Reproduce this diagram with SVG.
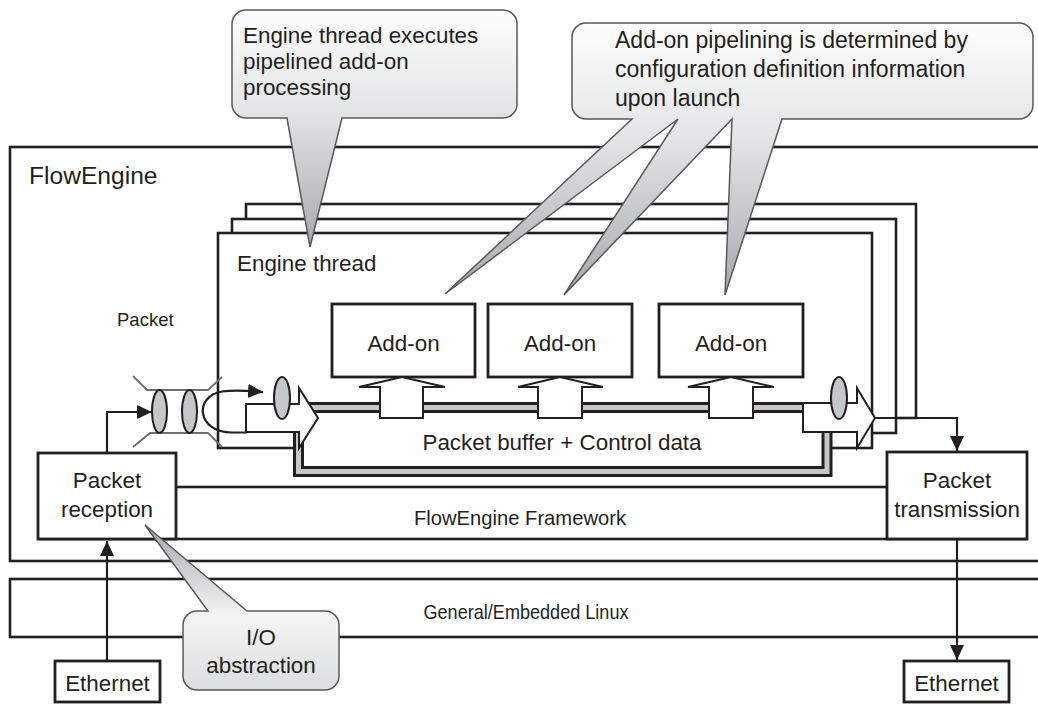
<svg xmlns="http://www.w3.org/2000/svg" width="1038" height="704" viewBox="0 0 1038 704">
<style>
.ln{fill:none;stroke:#231f20;stroke-width:2.6}
.box{fill:#fff;stroke:#231f20;stroke-width:2.8}
.th{fill:#fff;stroke:#231f20;stroke-width:2.6}
.fat{fill:#fff;stroke:#231f20;stroke-width:2}
.ov{fill:#c6c7c9;stroke:#231f20;stroke-width:2}
.q{fill:none;stroke:#6d6e70;stroke-width:1.8}
.con{fill:none;stroke:#231f20;stroke-width:2.2}
.co{stroke:#58595b;stroke-width:1.5}
text{font-family:"Liberation Sans",Arial,sans-serif;font-size:22.4px;fill:#231f20}
.c{text-anchor:middle}
</style>
<defs>
<marker id="ah" markerUnits="userSpaceOnUse" markerWidth="15" markerHeight="14" refX="15" refY="7" orient="auto">
<path d="M0,0 L15,7 L0,14 Z" fill="#231f20"/>
</marker>
<linearGradient id="gd" x1="0" y1="0" x2="0" y2="1">
<stop offset="0" stop-color="#fdfdfd"/>
<stop offset="0.42" stop-color="#e4e5e6"/>
<stop offset="1" stop-color="#a6a8ab"/>
</linearGradient>
<linearGradient id="gu" x1="0" y1="0" x2="0" y2="1">
<stop offset="0" stop-color="#a6a8ab"/>
<stop offset="0.55" stop-color="#f5f5f5"/>
<stop offset="1" stop-color="#dcdddf"/>
</linearGradient>
</defs>

<g id="flowengine">
<rect class="ln" x="10" y="147" width="1040" height="414"/>
<text x="29" y="184" style="font-size:24.6px">FlowEngine</text>
</g>

<g id="linux">
<rect class="ln" x="10" y="579" width="1040" height="58"/>
<text class="c" x="526" y="619" style="font-size:21px" textLength="205" lengthAdjust="spacingAndGlyphs">General/Embedded Linux</text>
</g>

<g id="framework">
<rect class="ln" x="40" y="487" width="985" height="52"/>
<text class="c" x="520" y="525" style="font-size:21px" textLength="212" lengthAdjust="spacingAndGlyphs">FlowEngine Framework</text>
</g>

<g id="engine-thread">
<rect class="th" x="246" y="204" width="670" height="214"/>
<rect class="th" x="232" y="219" width="664" height="214"/>
<rect class="th" x="218" y="233" width="654" height="215"/>
<text x="237" y="271">Engine thread</text>
</g>

<g id="packet-buffer">
<rect x="298.5" y="407.5" width="528.5" height="64" fill="#fff"/>
<path d="M306,407.5 H827 V471.5 H298.5 V425" fill="none" stroke="#231f20" stroke-width="11"/>
<path d="M306,407.5 H827 V471.5 H298.5 V425" fill="none" stroke="#c6c7c9" stroke-width="5"/>
<text class="c" x="562" y="450">Packet buffer + Control data</text>
</g>

<g id="input-arrow">
<polygon class="fat" points="246,404 299,404 299,388 318,418 299,448 299,432 246,432"/>
<ellipse class="ov" cx="282" cy="398" rx="8" ry="21"/>
</g>

<g id="output-arrow">
<polygon class="fat" points="803,403 857,403 857,388 875,418 857,448 857,432 803,432"/>
<ellipse class="ov" cx="839" cy="398" rx="8" ry="21"/>
</g>

<g id="addon1">
<rect class="box" x="332" y="304" width="143" height="73"/>
<text class="c" x="403.5" y="351">Add-on</text>
<polygon class="fat" points="380,418 380,387 359,387 402,377 445,387 423,387 423,418"/>
</g>
<g id="addon2">
<rect class="box" x="488" y="304" width="144" height="73"/>
<text class="c" x="560" y="351">Add-on</text>
<polygon class="fat" points="538,418 538,387 518,387 560,377 603,387 582,387 582,418"/>
</g>
<g id="addon3">
<rect class="box" x="659" y="304" width="144" height="73"/>
<text class="c" x="731" y="351">Add-on</text>
<polygon class="fat" points="709,418 709,387 688,387 731,377 774,387 753,387 753,418"/>
</g>

<g id="packet-queue">
<path class="q" d="M133,376 L147,390 H208 L222,377"/>
<path class="q" d="M133,447 L150,433 H208 L222,447"/>
<ellipse class="ov" cx="159.5" cy="411.5" rx="7.5" ry="21.5"/>
<ellipse class="ov" cx="189.5" cy="411.5" rx="7.5" ry="21.5"/>
<text x="117" y="326" style="font-size:18.5px">Packet</text>
</g>

<g id="reception">
<rect class="box" x="38" y="453" width="138" height="86"/>
<text class="c" x="107" y="488">Packet</text>
<text class="c" x="107" y="517">reception</text>
</g>

<g id="transmission">
<rect class="box" x="887" y="452" width="140" height="87"/>
<text class="c" x="957" y="488">Packet</text>
<text class="c" x="957" y="517">transmission</text>
</g>

<g id="ethernet-in">
<rect class="box" x="55" y="661" width="105" height="41"/>
<text class="c" x="107.5" y="691">Ethernet</text>
</g>
<g id="ethernet-out">
<rect class="box" x="904" y="661" width="105" height="41"/>
<text class="c" x="956.5" y="691">Ethernet</text>
</g>

<g id="connectors">
<path class="con" d="M107,453 V412 H152" marker-end="url(#ah)"/>
<path class="con" d="M107,661 V541" marker-end="url(#ah)"/>
<path class="con" d="M875,418 H957 V451" marker-end="url(#ah)"/>
<path class="con" d="M957,539 V660" marker-end="url(#ah)"/>
<path class="con" d="M247,432.5 H232 C196,432 194,396 222,391.5 C236,389.5 250,391 263,392" marker-end="url(#ah)"/>
</g>

<g id="callout-engine">
<path class="co" fill="url(#gd)" d="M246,10 H503 A14,14 0 0 1 517,24 V104 A14,14 0 0 1 503,118 H342 L310,247 L287,118 H246 A14,14 0 0 1 232,104 V24 A14,14 0 0 1 246,10 Z"/>
<text x="243" y="43">Engine thread executes</text>
<text x="243" y="69">pipelined add-on</text>
<text x="243" y="95">processing</text>
</g>

<g id="callout-pipelining">
<path class="co" fill="url(#gd)" d="M586,23 H1019 A14,14 0 0 1 1033,37 V105 A14,14 0 0 1 1019,119 H782 L725,295 L732,119 L564,295 L678,119 L445,294 L632,119 H586 A14,14 0 0 1 572,105 V37 A14,14 0 0 1 586,23 Z"/>
<text x="615" y="48" style="font-size:23px">Add-on pipelining is determined by</text>
<text x="615" y="77" style="font-size:23px">configuration definition information</text>
<text x="615" y="106" style="font-size:23px">upon launch</text>
</g>

<g id="callout-io">
<path class="co" fill="url(#gu)" d="M197,611 H208 L145,525 L247,611 H325 A14,14 0 0 1 339,625 V676 A14,14 0 0 1 325,690 H197 A14,14 0 0 1 183,676 V625 A14,14 0 0 1 197,611 Z"/>
<text class="c" x="261" y="645">I/O</text>
<text class="c" x="261" y="673">abstraction</text>
</g>
</svg>
